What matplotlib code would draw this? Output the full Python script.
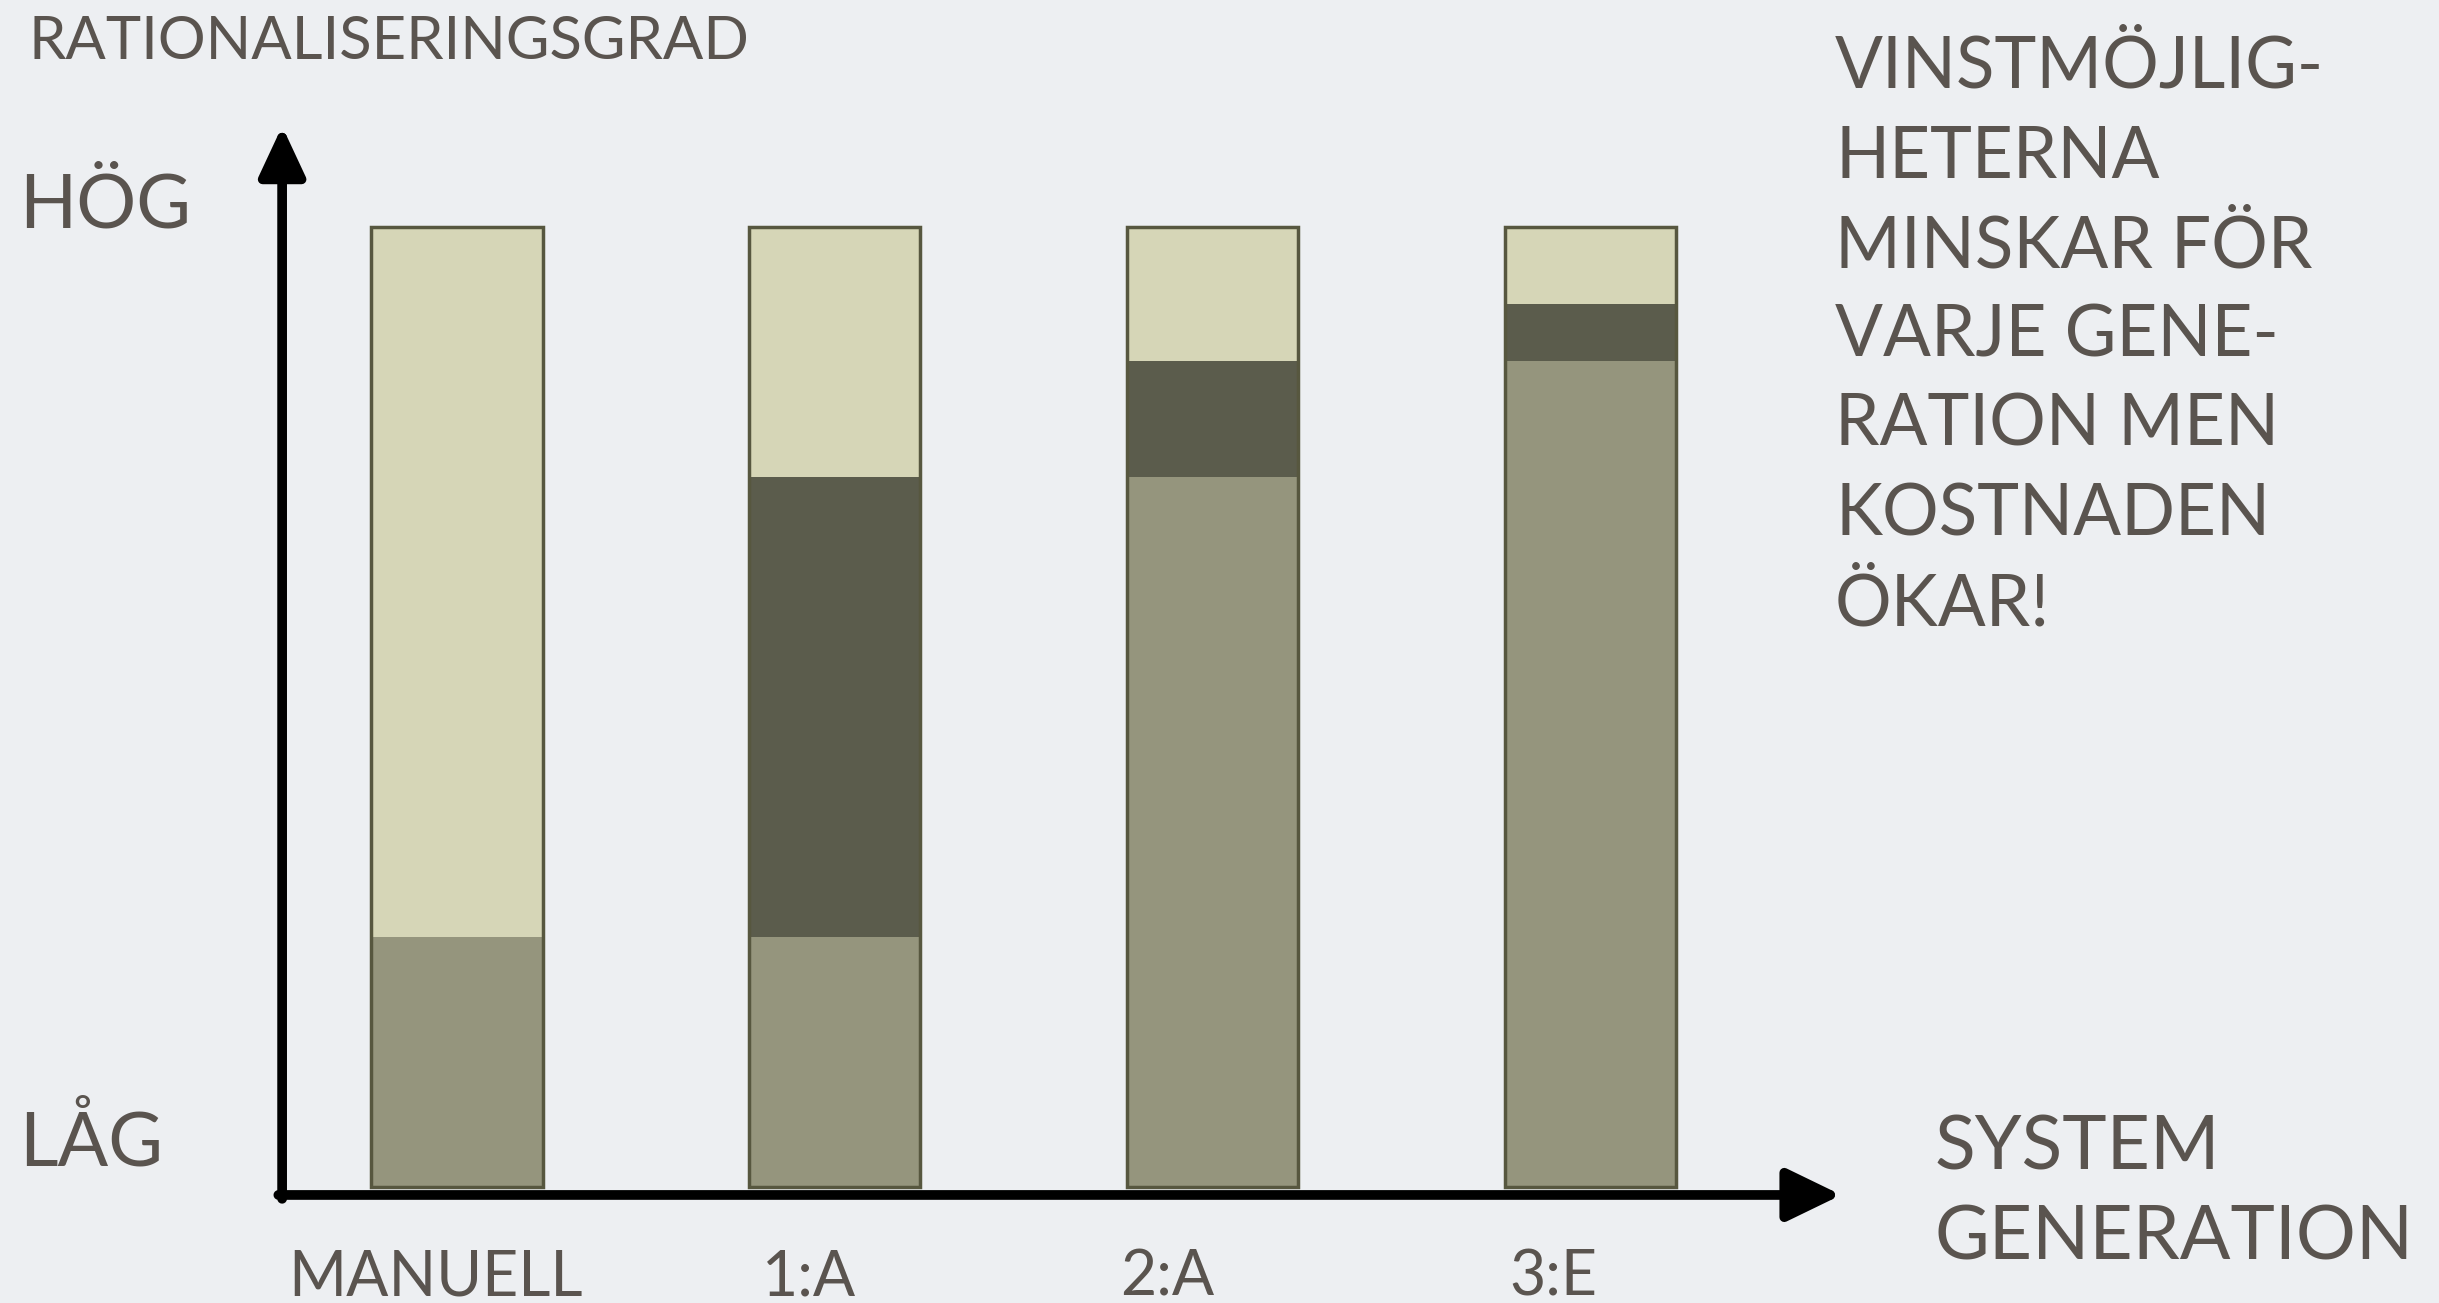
import numpy as np
import matplotlib.pyplot as plt

# Kategorier och staplarnas delar (andel av stapelhöjden, 0-100)
kategorier = ['MANUELL', '1:A', '2:A', '3:E']
nedre = [26, 26, 74, 86]     # mellanton
mitten = [0, 48, 12, 6]      # mörk
ovre = [74, 26, 14, 8]       # ljus

hoger_text = ['VINSTMÖJLIG-', 'HETERNA', 'MINSKAR FÖR', 'VARJE GENE-',
              'RATION MEN', 'KOSTNADEN', 'ÖKAR!']

ljus = '#D6D6B7'
mork = '#5B5C4C'
mellan = '#95957D'
kant = '#57573F'
textfarg = '#5A544F'
bakgrund = '#EDEFF2'

plt.rcParams['font.family'] = ['Lato', 'DejaVu Sans']

W, H = 2439, 1303
fig = plt.figure(figsize=(W / 100, H / 100), dpi=100, facecolor=bakgrund)
ax = fig.add_axes([0, 0, 1, 1])
ax.set_facecolor(bakgrund)

# skala: x=0 vid px 457, steg 377.7 px; y=0 vid px 116 (nerifrån), 9.6 px per enhet
x0, dx = 457, 377.7
y0, dy = 116, 9.6
ax.set_xlim(-x0 / dx, (W - x0) / dx)
ax.set_ylim(-y0 / dy, (H - y0) / dy)
ax.axis('off')

x = np.arange(len(kategorier))
bredd = 0.453
ax.bar(x, nedre, bredd, color=mellan, edgecolor='none', zorder=2)
ax.bar(x, mitten, bredd, bottom=nedre, color=mork, edgecolor='none', zorder=2)
ax.bar(x, ovre, bredd, bottom=np.array(nedre) + np.array(mitten),
       color=ljus, edgecolor='none', zorder=2)
totalt = np.array(nedre) + np.array(mitten) + np.array(ovre)
ax.bar(x, totalt, bredd, color='none', edgecolor=kant, linewidth=2.5, zorder=3)

# axlar som pilar
xa = -0.463
ya = -0.83
ax.annotate('', xy=(xa, 110.5), xytext=(xa, ya - 0.4),
            arrowprops=dict(arrowstyle='-|>,head_length=0.30,head_width=0.14',
                            lw=7, color='black', shrinkA=0, shrinkB=0,
                            mutation_scale=100), zorder=4)
ax.annotate('', xy=(3.665, ya), xytext=(xa - 0.01, ya),
            arrowprops=dict(arrowstyle='-|>,head_length=0.33,head_width=0.16',
                            lw=7, color='black', shrinkA=0, shrinkB=0,
                            mutation_scale=100), zorder=4)

def fy(px):
    return 1 - px / H

fig.text(28 / W, fy(59), 'RATIONALISERINGSGRAD', fontsize=43, color=textfarg,
         ha='left', va='baseline')
fig.text(19 / W, fy(227), 'HÖG', fontsize=54, color=textfarg,
         ha='left', va='baseline')
fig.text(19 / W, fy(1165), 'LÅG', fontsize=54, color=textfarg,
         ha='left', va='baseline')

etikett_x = [288, 762, 1120, 1509]
for lx, lab in zip(etikett_x, kategorier):
    fig.text(lx / W, fy(1296), lab, fontsize=45, color=textfarg,
             ha='left', va='baseline')

fig.text(1935 / W, fy(1170), 'SYSTEM', fontsize=54, color=textfarg,
         ha='left', va='baseline')
fig.text(1935 / W, fy(1260), 'GENERATION', fontsize=54, color=textfarg,
         ha='left', va='baseline')

for i, rad in enumerate(hoger_text):
    fig.text(1835 / W, fy(88 + i * 89.5), rad, fontsize=51, color=textfarg,
             ha='left', va='baseline')

fig.savefig('out.png', dpi=100, facecolor=bakgrund)
